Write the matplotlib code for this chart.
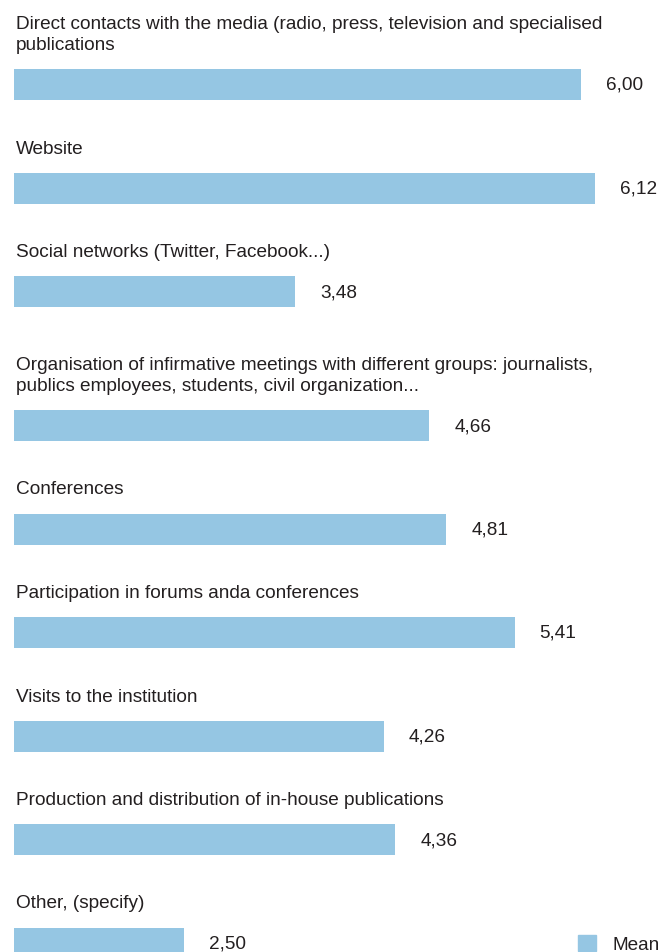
import matplotlib.pyplot as plt
from matplotlib.patches import Patch

# communication channels and their mean score (scale starts at 1)
labels = [
    "Direct contacts with the media (radio, press, television and specialised\npublications",
    "Website",
    "Social networks (Twitter, Facebook...)",
    "Organisation of infirmative meetings with different groups: journalists,\npublics employees, students, civil organization...",
    "Conferences",
    "Participation in forums anda conferences",
    "Visits to the institution",
    "Production and distribution of in-house publications",
    "Other, (specify)",
]
means = [6.00, 6.12, 3.48, 4.66, 4.81, 5.41, 4.26, 4.36, 2.50]
value_labels = ["6,00", "6,12", "3,48", "4,66", "4,81", "5,41", "4,26", "4,36", "2,50"]

BAR_COLOR = "#95c6e3"
TEXT_COLOR = "#231f20"
FS = 13.7

plt.rcParams['font.family'] = ['Liberation Sans', 'DejaVu Sans']

W, H = 662, 952
fig = plt.figure(figsize=(W / 100, H / 100), dpi=100)
# vertical axis in pixel units, horizontal axis on the value scale
ax = fig.add_axes([14 / W, 0, 6 * 113.5 / W, 1])
ax.set_xlim(1, 7)
ax.set_ylim(H, 0)
ax.axis("off")

# row spacing grows with the number of label lines
first_center = 84.5
row_gap = 103.5
extra_line = 30.5
centers = []
y = first_center
for i, lab in enumerate(labels):
    if i > 0:
        y += row_gap + extra_line * lab.count("\n")
    centers.append(y)

bar_h = 31
ax.barh(centers, means, height=bar_h, color=BAR_COLOR, label="Mean")

for c, lab, m, vl in zip(centers, labels, means, value_labels):
    ax.text(1.02, c - bar_h / 2 - 15, lab, ha="left", va="bottom",
            fontsize=FS, color=TEXT_COLOR, linespacing=1.33)
    ax.annotate(vl, xy=(m, c + 1), xytext=(18, 0), textcoords="offset points",
                ha="left", va="center", fontsize=FS, color=TEXT_COLOR)

fig.legend(handles=[Patch(color=BAR_COLOR, label="Mean")], loc="upper left",
           bbox_to_anchor=(578 / W, 1 - 935 / H), frameon=False, fontsize=FS,
           handlelength=0.95, handleheight=0.95, handletextpad=0.85,
           borderpad=0, borderaxespad=0, labelcolor=TEXT_COLOR)

fig.savefig("out.png", dpi=100)
